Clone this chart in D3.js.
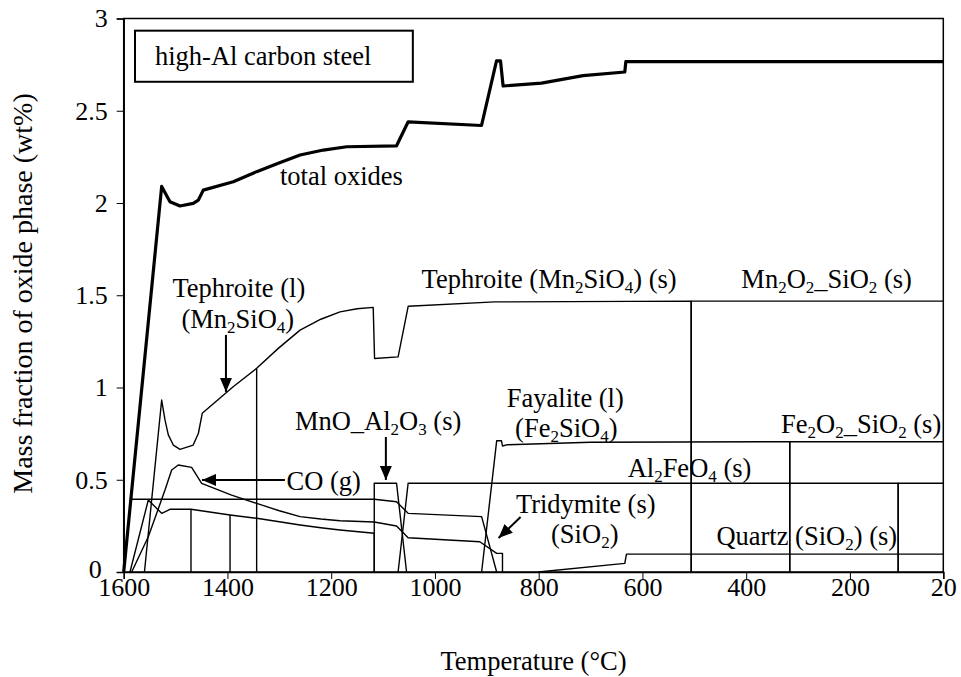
<!DOCTYPE html>
<html><head><meta charset="utf-8">
<script src="https://cdn.jsdelivr.net/npm/d3@7"></script>
<style>body{margin:0;background:#fff}</style>
</head><body>
<svg id="chart" width="961" height="677"></svg>
<script>
// ---------- data (temperature °C, mass fraction wt%) ----------
const xTicks = [1600, 1400, 1200, 1000, 800, 600, 400, 200, 20];
const yTicks = [0, 0.5, 1, 1.5, 2, 2.5, 3];

const totalOxides = [[1600,0],[1526.8,2.09],[1510.8,2.007],[1491.5,1.984],[1466,1.998],[1456,2.016],
  [1446.6,2.07],[1388.8,2.115],[1343.7,2.17],[1302,2.215],[1260,2.26],[1215,2.287],[1170,2.305],[1074,2.31],
  [1051.6,2.44],[910.2,2.42],[881.3,2.77],[873.6,2.77],[868.6,2.634],[794.6,2.65],[714.4,2.69],
  [634,2.71],[632,2.766],[20,2.766]];

const tephroite = [[1560,0],[1526.8,0.932],[1520.4,0.824],[1514,0.743],[1504.4,0.688],[1491.5,0.665],
  [1466,0.688],[1456,0.752],[1448.6,0.86],[1389,1.004],[1343.7,1.104],[1302,1.212],[1260,1.311],
  [1220,1.37],[1183,1.41],[1150,1.427],[1119,1.434],[1116.4,1.157],[1071,1.166],[1051.6,1.44],
  [884.6,1.464],[506,1.468],[506,0]];

const mn2o2SiO2 = [[506,0],[506,1.468],[20,1.468]];

const coGas = [[1584.6,0],[1552.6,0.191],[1520.4,0.444],[1507.5,0.553],[1494.8,0.58],[1469,0.567],
  [1449.7,0.48],[1392,0.417],[1343.7,0.372],[1300,0.332],[1260,0.30],[1220,0.287],[1183,0.278],
  [1117,0.271],[1074,0.249],[1051.7,0.186],[913.5,0.164],[881,0.101],[869.8,0.101],[869.8,0]];

const phaseFlat = [[1600,0],[1586.5,0.394],[1117,0.394],[1074,0.381],[1051.7,0.318],[910,0.30],[881,0]];

const phaseLow = [[1587.9,0],[1552.6,0.39],[1526.8,0.318],[1510.8,0.34],[1470.3,0.34],[1395,0.309],
  [1343.7,0.291],[1300,0.272],[1260,0.255],[1220,0.24],[1183,0.228],[1117,0.21],[1117,0]];

const drop1470 = [[1470.3,0.34],[1470.3,0]];
const drop1395 = [[1395,0.309],[1395,0]];
const drop1344 = [[1343.7,1.104],[1343.7,0]];

const mnoAl2o3 = [[1117,0],[1117,0.481],[1074,0.481],[1054.7,0]];
const al2feo4 = [[1071,0],[1051.7,0.481],[107,0.481],[107,0]];
const spinelLow = [[107,0],[107,0.481],[20,0.481]];

const fayalite = [[910,0],[881,0.711],[871.7,0.711],[869.8,0.683],[860,0.69],[700,0.703],[316,0.706],[316,0]];
const fe2o2SiO2 = [[316,0],[316,0.706],[20,0.706]];

const quartz = [[801,0],[634,0.047],[630.8,0.097],[20,0.097]];

const thinSeries = [tephroite, mn2o2SiO2, coGas, phaseFlat, phaseLow, drop1470, drop1395, drop1344,
  mnoAl2o3, al2feo4, spinelLow, fayalite, fe2o2SiO2, quartz];

// labels: [T, value, anchor, parts]
const labels = [
  [1298.8, 2.098, "start", ["total oxides"]],
  [1378, 1.492, "middle", ["Tephroite (l)"]],
  [1380, 1.322, "middle", ["(Mn", ["2"], "SiO", ["4"], ")"]],
  [1286, 0.444, "start", ["CO (g)"]],
  [1270, 0.77, "start", ["MnO_Al", ["2"], "O", ["3"], " (s)"]],
  [1025.8, 1.538, "start", ["Tephroite (Mn", ["2"], "SiO", ["4"], ") (s)"]],
  [409.3, 1.538, "start", ["Mn", ["2"], "O", ["2"], "_SiO", ["2"], " (s)"]],
  [748.7, 0.896, "middle", ["Fayalite (l)"]],
  [746.8, 0.733, "middle", ["(Fe", ["2"], "SiO", ["4"], ")"]],
  [390, 0.517, "end", ["Al", ["2"], "FeO", ["4"], " (s)"]],
  [23.9, 0.752, "end", ["Fe", ["2"], "O", ["2"], "_SiO", ["2"], " (s)"]],
  [709.3, 0.318, "middle", ["Tridymite (s)"]],
  [711.2, 0.156, "middle", ["(SiO", ["2"], ")"]],
  [457.4, 0.146, "start", ["Quartz (SiO", ["2"], ") (s)"]]
];

// arrows: [T0, v0, T1, v1] (tail -> head)
const arrows = [
  [1402.9, 1.285, 1402.9, 0.976],
  [1289.2, 0.499, 1449.1, 0.499],
  [1094.6, 0.732, 1094.6, 0.499],
  [834.9, 0.298, 877.3, 0.184]
];

const boxTitle = "high-Al carbon steel";
const boxArea = [1578.2, 2.934, 1042.6, 2.657];

// ---------- drawing ----------
const svg = d3.select("#chart");
const mLeft = 123.7, mRight = 943.3, mTop = 18.5, mBottom = 572;
const x = d3.scaleLinear().domain([1600, 20]).range([mLeft, mRight]);
const y = d3.scaleLinear().domain([0, 3]).range([mBottom, mTop]);
const font = "'Liberation Serif','Times New Roman',serif";

svg.append("defs").append("marker")
  .attr("id", "ah").attr("markerUnits", "userSpaceOnUse")
  .attr("viewBox", "0 0 14 12").attr("refX", 14).attr("refY", 6)
  .attr("markerWidth", 14).attr("markerHeight", 12).attr("orient", "auto")
  .append("path").attr("d", "M0,0 L14,6 L0,12 Z").attr("fill", "#000");

// frame
svg.append("rect").attr("x", mLeft).attr("y", mTop).attr("width", mRight - mLeft).attr("height", mBottom - mTop)
  .attr("fill", "none").attr("stroke", "#000").attr("stroke-width", 1.5);

// axes
const xAxis = d3.axisBottom(x).tickValues(xTicks).tickSize(7).tickFormat(d3.format("d"));
const gx = svg.append("g").attr("transform", `translate(0,${mBottom})`).call(xAxis);
gx.select(".domain").attr("stroke-width", 1.5);
gx.selectAll("text").attr("font-family", font).attr("font-size", 26).attr("dy", "14px").attr("fill", "#000");

const yAxis = d3.axisLeft(y).tickValues(yTicks).tickSize(7).tickFormat(d => d);
const gy = svg.append("g").attr("transform", `translate(${mLeft},0)`).call(yAxis);
gy.select(".domain").attr("stroke-width", 1.5);
gy.selectAll("text").attr("font-family", font).attr("font-size", 26).attr("fill", "#000")
  .attr("x", d => d === 0 ? -22 : -16).attr("dy", d => d === 0 ? "0.2em" : "0.32em");

// axis titles
svg.append("text").attr("x", (mLeft + mRight) / 2).attr("y", 670).attr("text-anchor", "middle")
  .attr("font-family", font).attr("font-size", 26.5).text("Temperature (°C)");
svg.append("text").attr("transform", `translate(32,293.5) rotate(-90)`)
  .attr("text-anchor", "middle").attr("font-family", font).attr("font-size", 28)
  .text("Mass fraction of oxide phase (wt%)");

// lines
const line = d3.line().x(d => x(d[0])).y(d => y(d[1]));
const plot = svg.append("g");
plot.selectAll("path.thin").data(thinSeries).join("path").attr("class", "thin")
  .attr("d", line).attr("fill", "none").attr("stroke", "#000").attr("stroke-width", 1.4)
  .attr("stroke-linejoin", "round");
plot.append("path").datum(totalOxides).attr("d", line).attr("fill", "none")
  .attr("stroke", "#000").attr("stroke-width", 3.2).attr("stroke-linejoin", "round");

// title box
svg.append("rect").attr("x", x(boxArea[0])).attr("y", y(boxArea[1]))
  .attr("width", x(boxArea[2]) - x(boxArea[0])).attr("height", y(boxArea[3]) - y(boxArea[1]))
  .attr("fill", "#fff").attr("stroke", "#000").attr("stroke-width", 2);
svg.append("text").attr("x", x(1539.7)).attr("y", y(2.748)).attr("font-family", font)
  .attr("font-size", 26.5).text(boxTitle);

// labels
labels.forEach(([t, v, anchor, parts]) => {
  const txt = svg.append("text").attr("x", x(t)).attr("y", y(v)).attr("text-anchor", anchor)
    .attr("font-family", font).attr("font-size", 26.5);
  let shifted = false;
  parts.forEach(p => {
    if (Array.isArray(p)) {
      txt.append("tspan").attr("font-size", 17).attr("dy", shifted ? 0 : 5).text(p[0]);
      shifted = true;
    } else {
      txt.append("tspan").attr("dy", shifted ? -5 : 0).text(p);
      shifted = false;
    }
  });
});

// arrows
svg.selectAll("line.arrow").data(arrows).join("line").attr("class", "arrow")
  .attr("x1", d => x(d[0])).attr("y1", d => y(d[1])).attr("x2", d => x(d[2])).attr("y2", d => y(d[3]))
  .attr("stroke", "#000").attr("stroke-width", 2).attr("marker-end", "url(#ah)");
</script>
</body></html>
